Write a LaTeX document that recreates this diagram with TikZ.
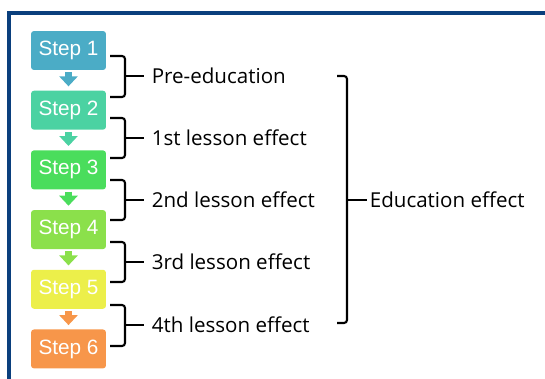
\documentclass[tikz,border=0pt]{standalone}
\usepackage{fontspec}
\setmainfont{Open Sans}
\newfontfamily\stepfont{Liberation Sans}
\usepackage{tikz}
\usetikzlibrary{positioning,arrows.meta}

\definecolor{frameblue}{RGB}{10,63,125}
\definecolor{stepA}{RGB}{75,172,198}
\definecolor{stepB}{RGB}{75,210,162}
\definecolor{stepC}{RGB}{74,221,92}
\definecolor{stepD}{RGB}{139,224,75}
\definecolor{stepE}{RGB}{236,239,74}
\definecolor{stepF}{RGB}{247,150,74}

\tikzset{
  stepbox/.style={rectangle, rounded corners=0.06cm, minimum width=1.5cm,
    minimum height=0.78cm, inner sep=0pt, text=white,
    font=\stepfont\fontsize{11.8}{12}\selectfont},
  steparrow/.style={line width=0.16cm, shorten <=0.04cm, shorten >=0.08cm,
    -{Triangle[width=0.36cm,length=0.2cm]}},
  bracket/.style={line width=1.2pt, rounded corners=0.06cm},
  effect/.style={anchor=west, inner sep=0.15cm,
    font=\fontsize{11.7}{12}\selectfont}
}

\begin{document}
\begin{tikzpicture}[x=0.02cm, y=-0.02cm]
  \useasboundingbox (0,0) rectangle (545,379);
  % frame
  \draw[frameblue, line width=0.08cm] (9,379) -- (9,13) -- (545,13);

  % Nodes
  % steps
  \node[stepbox, fill=stepA] (s1) at (68.5,50.5) {Step 1};
  \node[stepbox, fill=stepB, below=0.4cm of s1] (s2) {Step 2};
  \node[stepbox, fill=stepC, below=0.4cm of s2] (s3) {Step 3};
  \node[stepbox, fill=stepD, below=0.4cm of s3] (s4) {Step 4};
  \node[stepbox, fill=stepE, below=0.4cm of s4] (s5) {Step 5};
  \node[stepbox, fill=stepF, below=0.4cm of s5] (s6) {Step 6};
  % effects
  \node[effect] (pre)  at (144,76)  {Pre-education};
  \node[effect] (les1) at (144,138) {1st lesson effect};
  \node[effect] (les2) at (144,200) {2nd lesson effect};
  \node[effect] (les3) at (144,262) {3rd lesson effect};
  \node[effect] (les4) at (144,325) {4th lesson effect};
  \node[effect, inner sep=0.05cm] (edu) at (367,200) {Education effect};

  % edges
  \draw[steparrow, stepA] (s1) -- (s2);
  \draw[steparrow, stepB] (s2) -- (s3);
  \draw[steparrow, stepC] (s3) -- (s4);
  \draw[steparrow, stepD] (s4) -- (s5);
  \draw[steparrow, stepF] (s5) -- (s6);

  % brackets
  \draw[bracket] (110,56) -- (125,56) -- (125,97) -- (110,97);
  \draw[bracket] (125,76) -- (pre.west);
  \draw[bracket] (110,118) -- (125,118) -- (125,158) -- (110,158);
  \draw[bracket] (125,138) -- (les1.west);
  \draw[bracket] (110,180) -- (125,180) -- (125,220) -- (110,220);
  \draw[bracket] (125,200) -- (les2.west);
  \draw[bracket] (110,242) -- (125,242) -- (125,282) -- (110,282);
  \draw[bracket] (125,262) -- (les3.west);
  \draw[bracket] (110,305) -- (125,305) -- (125,346) -- (110,346);
  \draw[bracket] (125,325) -- (les4.west);
  \draw[bracket] (337,76) -- (347,76) -- (347,323) -- (337,323);
  \draw[bracket] (347,200) -- (edu.west);
\end{tikzpicture}
\end{document}
